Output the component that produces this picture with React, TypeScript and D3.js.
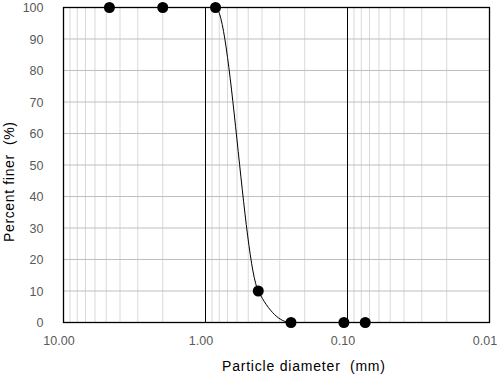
import React from "react";
import * as d3 from "d3";

const diameters = [4.75, 2.0, 0.85, 0.425, 0.25, 0.106, 0.075];
const percentFiner = [100, 100, 100, 10, 0, 0, 0];
const xTickValues = [10, 1, 0.1, 0.01];
const xTickLabels = ["10.00", "1.00", "0.10", "0.01"];
const yTickValues = [0, 10, 20, 30, 40, 50, 60, 70, 80, 90, 100];

const W = 500, H = 376;
const M = { left: 63.5, right: 489.5, top: 7.5, bottom: 322.5 };

export default function App() {
  const x = d3.scaleLog().domain([10, 0.01]).range([M.left, M.right]);
  const y = d3.scaleLinear().domain([0, 100]).range([M.bottom, M.top]);

  const minor: number[] = [];
  for (const dec of [1, 0.1, 0.01]) {
    for (let k = 2; k <= 9; k++) minor.push(k * dec);
  }

  const pts = diameters.map((d, i) => [x(d), y(percentFiner[i])] as [number, number]);
  const line = d3.line().curve(d3.curveMonotoneX)(pts) || "";
  const font = "'Liberation Sans', Arial, sans-serif";
  const textColor = "#595959";

  return (
    <svg width={W} height={H} style={{ position: "absolute", left: 0, top: 0 }}>
      <rect x={0} y={0} width={W} height={H} fill="#fff" />
      {minor.map((v, i) => (
        <line key={"mv" + i} x1={x(v)} x2={x(v)} y1={M.top} y2={M.bottom} stroke="#d9d9d9" strokeWidth={1} />
      ))}
      {yTickValues.map((v) => (
        <line key={"hg" + v} x1={M.left} x2={M.right} y1={y(v)} y2={y(v)} stroke="#bfbfbf" strokeWidth={1} />
      ))}
      {[1, 0.1].map((v) => (
        <line key={"mj" + v} x1={x(v)} x2={x(v)} y1={M.top} y2={M.bottom} stroke="#000" strokeWidth={1} />
      ))}
      <rect x={M.left} y={M.top} width={M.right - M.left} height={M.bottom - M.top} fill="none" stroke="#000" strokeWidth={1.3} />
      <path d={line} fill="none" stroke="#000" strokeWidth={1} />
      {pts.map((p, i) => (
        <circle key={"pt" + i} cx={p[0]} cy={p[1]} r={5.5} fill="#000" />
      ))}
      {yTickValues.map((v) => (
        <text key={"yl" + v} x={43.5} y={y(v) + 4.5} textAnchor="end" fontFamily={font} fontSize={12.5} fill={textColor}>
          {v}
        </text>
      ))}
      {xTickValues.map((v, i) => (
        <text key={"xl" + v} x={x(v) - 4.5} y={345} textAnchor="middle" fontFamily={font} fontSize={12.5} fill={textColor}>
          {xTickLabels[i]}
        </text>
      ))}
      <text x={222} y={371} fontFamily={font} fontSize={14} fill="#000" textLength={163} lengthAdjust="spacing" style={{ whiteSpace: "pre" }}>
        {"Particle diameter  (mm)"}
      </text>
      <text transform="translate(14,242) rotate(-90)" fontFamily={font} fontSize={14} fill="#000" textLength={120} lengthAdjust="spacing" style={{ whiteSpace: "pre" }}>
        {"Percent finer  (%)"}
      </text>
    </svg>
  );
}
